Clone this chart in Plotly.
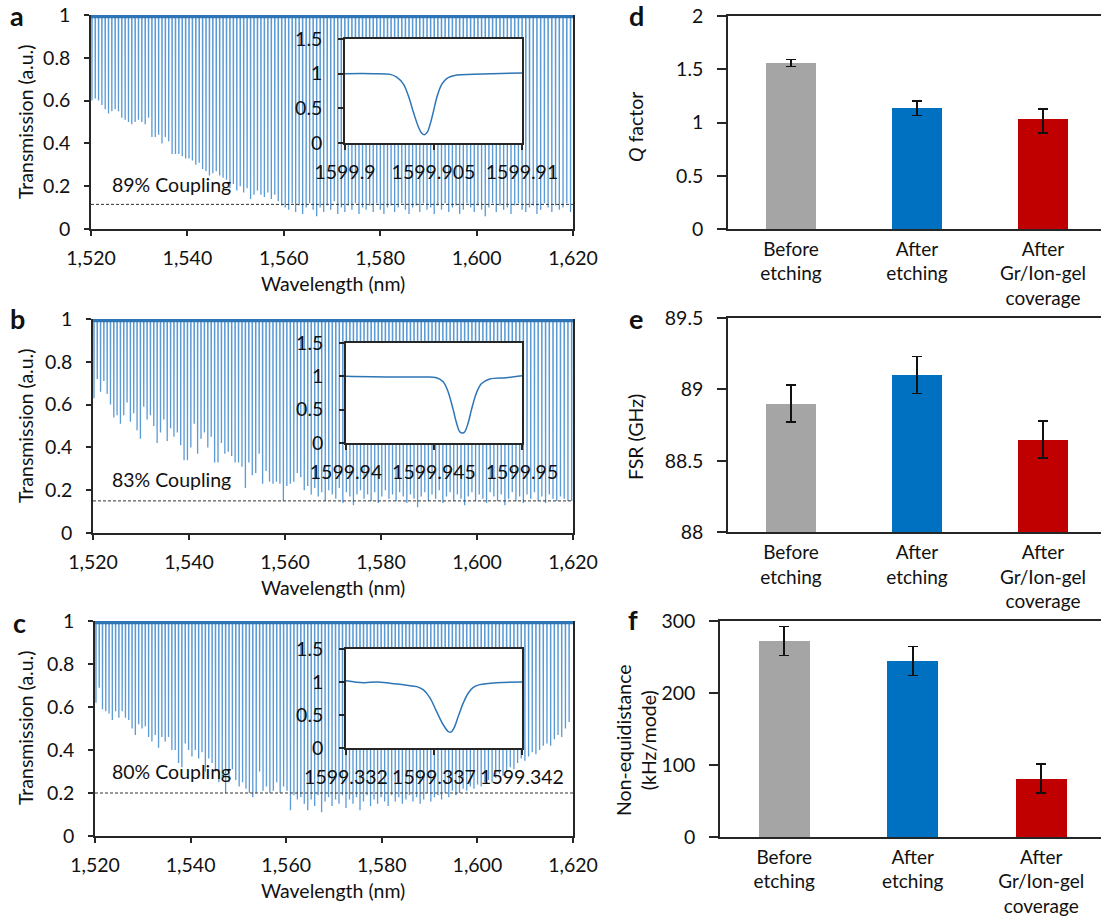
import plotly.graph_objects as go

W, H = 1101, 917
FONT = "Lato"
TXT = "#111111"
C_LIGHT = 299792458.0  # speed of light in nm*GHz

# ---------------- data: spectra (a, b, c) ----------------
start_nm = 1520.2            # first resonance in the scan
fsr_a, fsr_b, fsr_c = 88.90, 89.10, 88.65   # GHz, resonance spacing
off_level = 0.993            # off-resonance (normalized) transmission

dips_a = [0.60, 0.61, 0.60, 0.58, 0.56, 0.54, 0.55, 0.56, 0.55, 0.52,
          0.51, 0.50, 0.49, 0.50, 0.51, 0.50, 0.49, 0.52, 0.43, 0.43,
          0.44, 0.40, 0.43, 0.41, 0.35, 0.35, 0.35, 0.34, 0.33,
          0.33, 0.32, 0.30, 0.31, 0.28, 0.27, 0.25, 0.26, 0.27, 0.25,
          0.24, 0.23, 0.19, 0.21, 0.18, 0.20, 0.17, 0.19, 0.14, 0.16,
          0.18, 0.16, 0.15, 0.17, 0.14, 0.16, 0.13, 0.11,
          0.10, 0.09, 0.12, 0.08, 0.11, 0.07, 0.10, 0.12, 0.09, 0.06,
          0.10, 0.08, 0.11, 0.09, 0.13, 0.07, 0.10, 0.08, 0.11, 0.09,
          0.12, 0.07, 0.10, 0.09, 0.11, 0.08, 0.12, 0.09, 0.07, 0.10,
          0.11, 0.08, 0.10, 0.12, 0.09, 0.07, 0.10, 0.11, 0.08, 0.12,
          0.09, 0.10, 0.07, 0.11, 0.09, 0.12, 0.08, 0.10, 0.11, 0.07,
          0.09, 0.12, 0.10, 0.08, 0.11, 0.09, 0.06, 0.10, 0.12, 0.08,
          0.11, 0.09, 0.10, 0.07, 0.11, 0.12, 0.09, 0.08, 0.10, 0.11,
          0.07, 0.09, 0.12, 0.10, 0.08, 0.11, 0.09, 0.10, 0.12, 0.08]

dips_b = [0.63, 0.72, 0.66, 0.71, 0.65, 0.60, 0.54, 0.55, 0.51, 0.55,
          0.61, 0.52, 0.56, 0.48, 0.44, 0.59, 0.53, 0.55, 0.50, 0.42,
          0.47, 0.53, 0.43, 0.49, 0.45, 0.47, 0.41, 0.34, 0.34, 0.40,
          0.51, 0.37, 0.44, 0.47, 0.40, 0.45, 0.33, 0.33, 0.42, 0.37,
          0.38, 0.36, 0.33, 0.33, 0.31, 0.21, 0.33, 0.27, 0.28, 0.37,
          0.23, 0.29, 0.24, 0.23, 0.24, 0.23, 0.15,
          0.22, 0.23, 0.24, 0.28, 0.26, 0.20, 0.22, 0.18, 0.21, 0.17,
          0.19, 0.15, 0.20, 0.18, 0.16, 0.21, 0.14, 0.19, 0.17, 0.13,
          0.18, 0.20, 0.16, 0.18, 0.15, 0.19, 0.14, 0.17, 0.20, 0.16,
          0.18, 0.15, 0.19, 0.17, 0.14, 0.18, 0.16, 0.12, 0.17, 0.19,
          0.15, 0.18, 0.16, 0.20, 0.14, 0.17, 0.19, 0.15, 0.18, 0.16,
          0.13, 0.17, 0.19, 0.15, 0.18, 0.16, 0.14, 0.19, 0.17, 0.15,
          0.18, 0.13, 0.16, 0.19, 0.15, 0.17, 0.14, 0.18, 0.16, 0.19,
          0.15, 0.17, 0.14, 0.18, 0.16, 0.15, 0.17, 0.16, 0.15, 0.15]

dips_c = [0.62, 0.69, 0.59, 0.58, 0.57, 0.54, 0.58, 0.55, 0.58, 0.55,
          0.54, 0.50, 0.47, 0.52, 0.50, 0.51, 0.46, 0.44, 0.47, 0.41,
          0.46, 0.44, 0.46, 0.40, 0.40, 0.34, 0.32, 0.43, 0.40, 0.37,
          0.40, 0.36, 0.39, 0.30, 0.36, 0.34, 0.30, 0.25, 0.26, 0.20,
          0.25, 0.31, 0.26, 0.23, 0.25, 0.22, 0.20, 0.18, 0.20, 0.30,
          0.21, 0.23, 0.20, 0.21, 0.25, 0.20, 0.23, 0.21, 0.12, 0.19,
          0.17,
          0.18, 0.15, 0.12, 0.17, 0.14, 0.19, 0.11, 0.16, 0.18, 0.14,
          0.17, 0.15, 0.19, 0.13, 0.17, 0.15, 0.18, 0.12, 0.16, 0.19,
          0.14, 0.17, 0.15, 0.18, 0.16, 0.14, 0.19, 0.16, 0.18, 0.15,
          0.17, 0.19, 0.16, 0.18, 0.15, 0.17, 0.20, 0.16, 0.18, 0.19,
          0.17, 0.20, 0.18, 0.21, 0.19, 0.20, 0.22, 0.21, 0.23, 0.22,
          0.24, 0.23, 0.25, 0.26, 0.25, 0.27, 0.29, 0.28, 0.30, 0.32,
          0.31, 0.34, 0.36, 0.35, 0.37, 0.39, 0.38, 0.40, 0.42, 0.43,
          0.42, 0.45, 0.47, 0.46, 0.50, 0.53]

coupling_levels = [0.115, 0.15, 0.20]
coupling_labels = ["89% Coupling", "83% Coupling", "80% Coupling"]

# ---------------- data: inset resonances ----------------
inset_a_x = [1599.9000, 1599.9016, 1599.90255, 1599.90292, 1599.9033, 1599.90358,
             1599.90387, 1599.90415, 1599.90434, 1599.90449, 1599.90466, 1599.90481,
             1599.9050, 1599.90519, 1599.90547, 1599.90575, 1599.90632, 1599.90726, 1599.9100]
inset_a_y = [1.00, 1.00, 0.99, 0.95, 0.85, 0.68, 0.44, 0.23, 0.14, 0.12, 0.16, 0.27,
             0.46, 0.66, 0.85, 0.93, 0.98, 0.99, 1.01]
inset_a_ticks = ["1599.9", "1599.905", "1599.91"]

inset_b_x = [1599.94000, 1599.94250, 1599.94439, 1599.94514, 1599.94552, 1599.94580,
             1599.94609, 1599.94628, 1599.94646, 1599.94662, 1599.94675, 1599.94694,
             1599.94713, 1599.94741, 1599.94769, 1599.94817, 1599.94911, 1599.95000]
inset_b_y = [1.00, 0.99, 0.99, 0.98, 0.92, 0.77, 0.50, 0.30, 0.17, 0.15, 0.17, 0.30,
             0.50, 0.75, 0.89, 0.96, 0.98, 1.01]
inset_b_ticks = ["1599.94", "1599.945", "1599.95"]

inset_c_x = [1599.3320, 1599.3330, 1599.33375, 1599.33451, 1599.33545, 1599.33602,
             1599.33640, 1599.33677, 1599.33715, 1599.33753, 1599.33781, 1599.33796,
             1599.33813, 1599.33838, 1599.33866, 1599.33894, 1599.33923, 1599.33960,
             1599.34055, 1599.3420]
inset_c_y = [1.02, 0.99, 1.00, 0.98, 0.95, 0.93, 0.88, 0.76, 0.55, 0.35, 0.25, 0.24,
             0.30, 0.48, 0.68, 0.83, 0.92, 0.96, 0.99, 1.00]
inset_c_ticks = ["1599.332", "1599.337", "1599.342"]

# ---------------- data: bar panels (d, e, f) ----------------
categories = ["Before<br>etching", "After<br>etching", "After<br>Gr/Ion-gel<br>coverage"]
q_vals = [1.555, 1.135, 1.03]
q_err_plus = [0.035, 0.065, 0.095]
q_err_minus = [0.030, 0.070, 0.130]
fsr_vals = [88.90, 89.10, 88.65]
fsr_err = [0.13, 0.13, 0.13]
neq_vals = [272, 244, 81]
neq_err = [20, 20, 20]
bar_colors = ["#A5A5A5", "#0070C0", "#C00000"]

# ---------------- layout geometry (pixels) ----------------
def fx(p):
    return p / W

def fy(p):
    return 1 - p / H

panels = {
    "a": (91, 573, 15, 229), "b": (93, 573, 319, 533), "c": (95, 573, 621, 836),
    "d": (728, 1101, 16, 229), "e": (728, 1101, 317.7, 532.3), "f": (720, 1101, 620.7, 837),
    "ia": (345, 522, 39, 143), "ib": (346, 522, 343, 443), "ic": (346, 522, 649, 748),
}

def dom(key):
    x0, x1, y0, y1 = panels[key]
    return [fx(x0), min(1.0, fx(x1))], [fy(y1), fy(y0)]

fig = go.Figure()
SPEC_COL = "#5B9BD5"
BAND_COL = "#2E75B6"

def spectrum(dips, fsr):
    f0 = C_LIGHT / start_nm
    xs, ys = [], []
    for n, d in enumerate(dips):
        lam = C_LIGHT / (f0 - n * fsr)
        if lam > 1620:
            break
        xs += [lam - 0.03, lam, lam + 0.03]
        ys += [off_level, d, off_level]
    return xs, ys

spec_sets = [(dips_a, fsr_a, "x", "y"), (dips_b, fsr_b, "x2", "y2"), (dips_c, fsr_c, "x3", "y3")]
for i, (dips, fsr, xa, ya) in enumerate(spec_sets):
    xs, ys = spectrum(dips, fsr)
    fig.add_trace(go.Scatter(x=xs, y=ys, mode="lines", xaxis=xa, yaxis=ya,
                             line=dict(color=SPEC_COL, width=1.3), showlegend=False,
                             hoverinfo="skip"))
    fig.add_trace(go.Scatter(x=[1520, 1620], y=[off_level, off_level], mode="lines",
                             xaxis=xa, yaxis=ya, line=dict(color=BAND_COL, width=3.5),
                             showlegend=False, hoverinfo="skip"))
    lvl = coupling_levels[i]
    fig.add_trace(go.Scatter(x=[1520, 1620], y=[lvl, lvl], mode="lines", xaxis=xa, yaxis=ya,
                             line=dict(color="#333333", width=1, dash="3px,2px"),
                             showlegend=False, hoverinfo="skip"))

# bars
bar_sets = [
    (q_vals, dict(type="data", array=q_err_plus, arrayminus=q_err_minus, symmetric=False), "x4", "y4"),
    (fsr_vals, dict(type="data", array=fsr_err), "x5", "y5"),
    (neq_vals, dict(type="data", array=neq_err), "x6", "y6"),
]
for vals, err, xa, ya in bar_sets:
    err.update(color="#111111", thickness=1.6, width=5)
    fig.add_trace(go.Bar(x=[0, 1, 2], y=vals, marker=dict(color=bar_colors, line=dict(width=0)),
                         width=0.4, error_y=err, xaxis=xa, yaxis=ya, showlegend=False))

# insets
inset_sets = [(inset_a_x, inset_a_y, "x7", "y7"), (inset_b_x, inset_b_y, "x8", "y8"),
              (inset_c_x, inset_c_y, "x9", "y9")]
for xs, ys, xa, ya in inset_sets:
    fig.add_trace(go.Scatter(x=xs, y=ys, mode="lines", line=dict(color=BAND_COL, width=1.5, shape="spline"),
                             xaxis=xa, yaxis=ya, showlegend=False))

FS = 19.5
tickfont = dict(family=FONT, size=FS, color=TXT)
catfont = dict(family=FONT, size=19, color=TXT)
AXC = "#262626"

layout = dict(width=W, height=H, autosize=False, margin=dict(l=0, r=0, t=0, b=0, autoexpand=False),
              paper_bgcolor="white", plot_bgcolor="white", font=dict(family=FONT, color=TXT),
              bargap=0)

COMMON = dict(automargin=False, showgrid=False, zeroline=False, tickfont=tickfont,
              linecolor=AXC, linewidth=1.5, tickcolor=AXC, tickwidth=1.5, showline=True,
              tickangle=0)

def spec_axes(k, key):
    xd, yd = dom(key)
    sx = "xaxis" if k == 1 else f"xaxis{k}"
    sy = "yaxis" if k == 1 else f"yaxis{k}"
    layout[sx] = dict(COMMON, domain=xd, anchor="y" if k == 1 else f"y{k}", range=[1520, 1620],
                      tickvals=[1520, 1540, 1560, 1580, 1600, 1620], tickformat=",",
                      ticks="outside", ticklen=5, ticklabelstandoff=6)
    layout[sy] = dict(COMMON, domain=yd, anchor="x" if k == 1 else f"x{k}", range=[0, 1],
                      tickvals=[0, 0.2, 0.4, 0.6, 0.8, 1], ticktext=["0", "0.2", "0.4", "0.6", "0.8", "1"],
                      mirror=True, ticks="outside", ticklen=5, ticklabelstandoff=10)

spec_axes(1, "a"); spec_axes(2, "b"); spec_axes(3, "c")

def bar_axes(k, key, yr, yt, ytt):
    xd, yd = dom(key)
    x0 = panels[key][0]
    span = 126.0 if key != "f" else 128.5
    xmax = -0.5 + (W - x0) / span
    layout[f"xaxis{k}"] = dict(COMMON, domain=xd, anchor=f"y{k}", range=[-0.5, xmax], tickvals=[0, 1, 2],
                               ticktext=categories, mirror=True, ticks="", ticklabelstandoff=2,
                               tickfont=catfont)
    layout[f"yaxis{k}"] = dict(COMMON, domain=yd, anchor=f"x{k}", range=yr, tickvals=yt, ticktext=ytt,
                               ticks="outside", ticklen=9, ticklabelstandoff=10)

bar_axes(4, "d", [0, 2], [0, 0.5, 1, 1.5, 2], ["0", "0.5", "1", "1.5", "2"])
bar_axes(5, "e", [88, 89.5], [88, 88.5, 89, 89.5], ["88", "88.5", "89", "89.5"])
bar_axes(6, "f", [0, 300], [0, 100, 200, 300], ["0", "100", "200", "300"])

def inset_axes(k, key, xs, labels):
    xd, yd = dom(key)
    mid = (xs[0] + xs[-1]) / 2
    layout[f"xaxis{k}"] = dict(COMMON, domain=xd, anchor=f"y{k}", range=[xs[0], xs[-1]],
                               tickvals=[xs[0], mid, xs[-1]], ticktext=labels, mirror=True,
                               ticks="outside", ticklen=5, ticklabelstandoff=6)
    layout[f"yaxis{k}"] = dict(COMMON, domain=yd, anchor=f"x{k}", range=[0, 1.5],
                               tickvals=[0, 0.5, 1, 1.5], ticktext=["0", "0.5", "1", "1.5"],
                               mirror=True, ticks="outside", ticklen=5, ticklabelstandoff=12)

inset_axes(7, "ia", inset_a_x, inset_a_ticks)
inset_axes(8, "ib", inset_b_x, inset_b_ticks)
inset_axes(9, "ic", inset_c_x, inset_c_ticks)

ann = []
def text(x, y, s, size=FS, angle=0, bold=False, xanchor="center", yanchor="middle", xref="paper", yref="paper"):
    ann.append(dict(x=x, y=y, xref=xref, yref=yref, text=f"<b>{s}</b>" if bold else s,
                    showarrow=False, textangle=angle, xanchor=xanchor, yanchor=yanchor,
                    font=dict(family=FONT, size=size, color=TXT)))

# panel letters
for letter, (px, py) in {"a": (17, 15), "b": (17, 319), "c": (19, 622),
                         "d": (636, 15), "e": (636, 319), "f": (633, 619)}.items():
    text(fx(px), fy(py), letter, size=27, bold=True)

# axis titles
for cy in [122, 426, 728]:
    text(fx(25), fy(cy), "Transmission (a.u.)", angle=-90)
for ty in [283, 587, 890]:
    text(fx(333), fy(ty), "Wavelength (nm)")
text(fx(635), fy(127), "<i>Q</i> factor", angle=-90)
text(fx(635), fy(437), "FSR (GHz)", angle=-90)
text(fx(636), fy(740), "Non-equidistance<br>(kHz/mode)", angle=-90)

# coupling labels (data coords)
for lab, xa, ya, lx, ly in [(coupling_labels[0], "x", "y", 1523.9, 0.21),
                            (coupling_labels[1], "x2", "y2", 1523.5, 0.25),
                            (coupling_labels[2], "x3", "y3", 1523.1, 0.30)]:
    text(lx, ly, lab, xanchor="left", xref=xa, yref=ya)

layout["annotations"] = ann
fig.update_layout(**layout)
fig.write_html("out.html", config={"displayModeBar": False},
               post_script="document.body.style.margin='0';document.body.style.overflow='hidden';")
